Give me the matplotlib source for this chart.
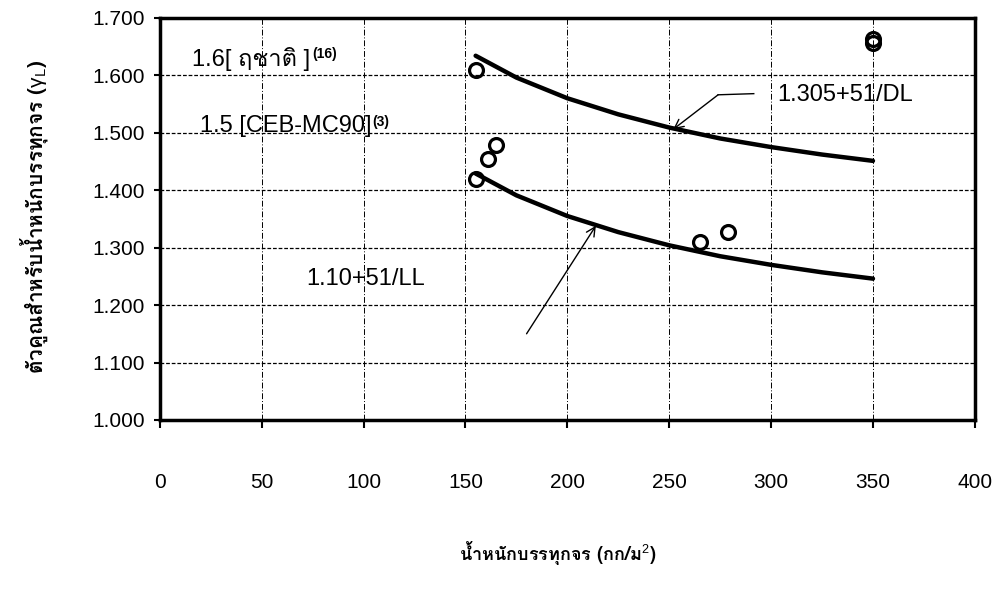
import matplotlib
matplotlib.use("Agg")
import matplotlib.pyplot as plt
from matplotlib import font_manager as fm
from matplotlib.ft2font import FT2Font

# ---------------- data ----------------
load_x = [155, 175, 200, 225, 250, 275, 300, 325, 350]
curve_dl = [1.634, 1.596, 1.560, 1.532, 1.509, 1.490, 1.475, 1.462, 1.451]
curve_ll = [1.429, 1.391, 1.355, 1.327, 1.304, 1.285, 1.270, 1.257, 1.246]

pts_x = [155, 155, 161, 165, 265, 279, 350, 350]
pts_y = [1.610, 1.420, 1.455, 1.478, 1.310, 1.327, 1.657, 1.664]

x_ticks = [0, 50, 100, 150, 200, 250, 300, 350, 400]
y_ticks = [1.0, 1.1, 1.2, 1.3, 1.4, 1.5, 1.6, 1.7]

label_dl = "1.305+51/DL"
label_ll = "1.10+51/LL"
label_16 = "1.6[ ฤชาติ ]"
label_15 = "1.5 [CEB-MC90]"
sup_16 = "(16)"
sup_15 = "(3)"
x_title = "น้ำหนักบรรทุกจร (กก/ม$^2$)"
y_title = "ตัวคูณสำหรับน้ำหนักบรรทุกจร ($\\gamma_L$)"

# ---------------- fonts ----------------
thai_font = None
for f in fm.fontManager.ttflist:
    try:
        if 0x0E01 in FT2Font(f.fname).get_charmap():
            thai_font = f.name
            break
    except Exception:
        pass
base = ["Liberation Sans", "DejaVu Sans"]
fam = (["Liberation Sans", thai_font, "DejaVu Sans"]) if thai_font else base
fam_title = ([thai_font, "Liberation Sans", "DejaVu Sans"]) if thai_font else base
plt.rcParams["font.family"] = base
plt.rcParams["mathtext.fontset"] = "custom"
plt.rcParams["mathtext.rm"] = "Liberation Sans"
plt.rcParams["mathtext.it"] = "Liberation Sans"
plt.rcParams["mathtext.bf"] = "Liberation Sans:bold"

# ---------------- figure ----------------
fig = plt.figure(figsize=(10.05, 5.94), dpi=100)
ax = fig.add_axes([0.159, 0.293, 0.811, 0.677])

ax.set_xlim(0, 400)
ax.set_ylim(1.0, 1.7)
ax.set_xticks(x_ticks)
ax.set_yticks(y_ticks)
ax.set_xticklabels([str(v) for v in x_ticks], fontsize=15)
ax.set_yticklabels([f"{v:.3f}" for v in y_ticks], fontsize=15)
ax.tick_params(axis="x", direction="out", length=6, width=1.5, pad=32)
ax.tick_params(axis="y", direction="out", length=4, width=1.5, pad=7)

for s in ax.spines.values():
    s.set_linewidth(2.5)
    s.set_color("black")

ax.xaxis.grid(True, color="black", linestyle=(0, (6, 2, 1, 2)), linewidth=0.7)
ax.yaxis.grid(True, color="black", linestyle=(0, (3, 1.5)), linewidth=0.9)
ax.set_axisbelow(True)

ax.plot(load_x, curve_dl, color="black", linewidth=3.2, zorder=3, solid_capstyle="round")
ax.plot(load_x, curve_ll, color="black", linewidth=3.2, zorder=3, solid_capstyle="round")
ax.plot(pts_x, pts_y, linestyle="none", marker="o", markersize=10,
        markerfacecolor="none", markeredgecolor="black", markeredgewidth=2.3, zorder=4)

# annotations
t16 = ax.text(16, 1.607, label_16, fontsize=17, family=fam, va="bottom", ha="left", zorder=5)
ax.annotate(sup_16, xy=(1, 1), xycoords=t16, xytext=(1, 0), textcoords="offset points",
            fontsize=10, fontweight="bold", ha="left", va="top")
t15 = ax.text(19.5, 1.502, label_15, fontsize=17, family=fam, va="baseline", ha="left", zorder=5)
ax.annotate(sup_15, xy=(1, 1), xycoords=t15, xytext=(1, 0), textcoords="offset points",
            fontsize=10, fontweight="bold", ha="left", va="top")

ax.text(303, 1.566, label_dl, fontsize=17, va="center", ha="left", zorder=5)
ax.plot([291.5, 274], [1.568, 1.566], color="black", linewidth=1.0, zorder=5)
ax.annotate("", xy=(252, 1.506), xytext=(274, 1.566),
            arrowprops=dict(arrowstyle="->", color="black", lw=1.0,
                            shrinkA=0, shrinkB=0, mutation_scale=16), zorder=5)

ax.text(72, 1.245, label_ll, fontsize=17, va="center", ha="left", zorder=5)
ax.annotate("", xy=(214, 1.338), xytext=(180, 1.15),
            arrowprops=dict(arrowstyle="->", color="black", lw=1.0,
                            shrinkA=0, shrinkB=0, mutation_scale=16), zorder=5)

fig.text(34 / 1005, 1 - 217 / 594, y_title, rotation=90, fontsize=15, family=fam_title,
         fontweight="bold", ha="center", va="center")
fig.text(558 / 1005, 1 - 553 / 594, x_title, fontsize=13, family=fam_title,
         fontweight="bold", ha="center", va="center")

fig.savefig("out.png", dpi=100, facecolor="white")
